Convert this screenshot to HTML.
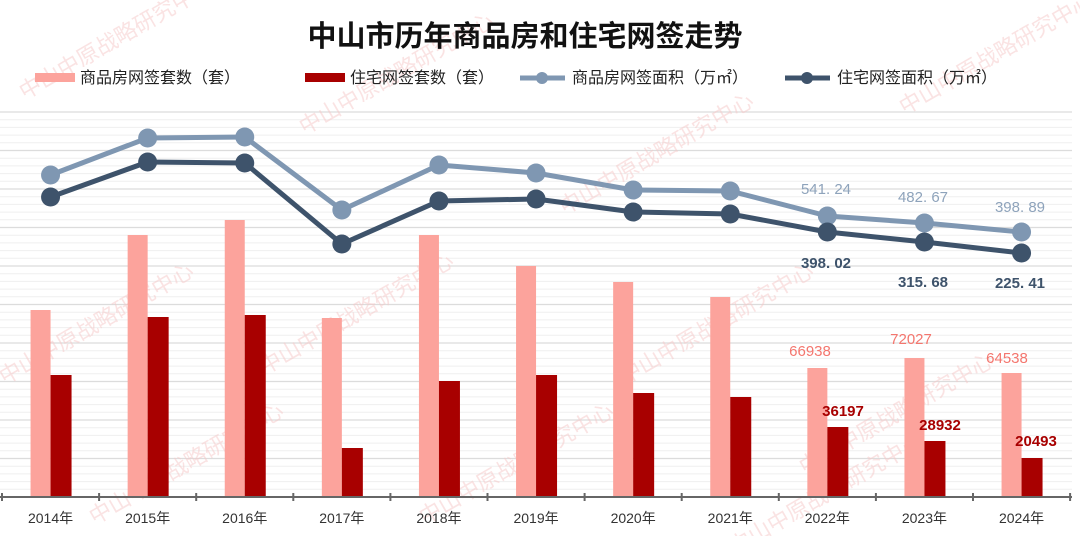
<!DOCTYPE html>
<html><head><meta charset="utf-8"><style>
html,body{margin:0;padding:0;background:#fff;width:1080px;height:536px;overflow:hidden;}
svg{display:block;font-family:"Liberation Sans","Noto Sans CJK SC",sans-serif;overflow:hidden;}
</style></head><body>
<svg id="s" width="1080" height="536" viewBox="0 0 1080 536" xmlns="http://www.w3.org/2000/svg"></svg>
<script>
const s=document.getElementById('s');let h='';
for(let i=0;i<=10;i++){const y=112+38.5*i;h+=`<line x1="0" x2="1072" y1="${y}" y2="${y}" stroke="#dcdcdc" stroke-width="1.3"/>`;
 if(i<10)for(let k=1;k<5;k++){const yy=y+7.7*k;h+=`<line x1="0" x2="1072" y1="${yy}" y2="${yy}" stroke="#efefef" stroke-width="1"/>`;}}
const wm=[[120,45],[400,80],[660,160],[1000,60],[100,330],[360,320],[720,330],[900,420],[190,470],[520,470],[830,500]];
wm.forEach(([x,y])=>{h+=`<text x="${x}" y="${y}" transform="rotate(-30 ${x} ${y})" font-size="22" fill="#f6c8c8" opacity="0.5" text-anchor="middle">中山中原战略研究中心</text>`;});
h+=`<text x="525" y="46" font-size="29" font-weight="bold" text-anchor="middle" fill="#111">中山市历年商品房和住宅网签走势</text>`;
h+=`<rect x="35" y="73" width="40" height="9" fill="#fca39c"/><text x="80" y="83" font-size="16" fill="#222">商品房网签套数（套）</text>`;
h+=`<rect x="305" y="73" width="40" height="9" fill="#a80000"/><text x="350" y="83" font-size="16" fill="#222">住宅网签套数（套）</text>`;
h+=`<line x1="520" x2="565" y1="78" y2="78" stroke="#7f97b2" stroke-width="5"/><circle cx="542" cy="78" r="6" fill="#7f97b2"/><text x="572" y="83" font-size="16" fill="#222">商品房网签面积（万㎡）</text>`;
h+=`<line x1="785" x2="830" y1="78" y2="78" stroke="#3e536b" stroke-width="5"/><circle cx="807" cy="78" r="6" fill="#3e536b"/><text x="837" y="83" font-size="16" fill="#222">住宅网签面积（万㎡）</text>`;
const cx=i=>2+97.1*(i+0.5), base=497;
const pink=[310,235,220,318,235,266,282,297,368,358,373];
const dark=[375,317,315,448,381,375,393,397,427,441,458];
for(let i=0;i<11;i++){const c=cx(i);
 h+=`<rect x="${c-20}" y="${pink[i]}" width="20" height="${base-pink[i]}" fill="#fca39c"/>`;
 h+=`<rect x="${c}" y="${dark[i]}" width="21" height="${base-dark[i]}" fill="#a80000"/>`;
 h+=`<text x="${c}" y="523" font-size="14" text-anchor="middle" fill="#333">${2014+i}年</text>`;}
h+=`<line x1="0" x2="1072" y1="${base}" y2="${base}" stroke="#666" stroke-width="2"/>`;
for(let i=0;i<=11;i++){const x=2+97.1*i;h+=`<line x1="${x}" x2="${x}" y1="${base-4}" y2="${base+4}" stroke="#666" stroke-width="2"/>`;}
const L=[175,138,137,210,165,173,190,191,216,223,232];
const D=[197,162,163,244,201,199,212,214,232,242,253];
function line(arr,col){let p=arr.map((y,i)=>`${cx(i)},${y}`).join(' ');
 h+=`<polyline points="${p}" fill="none" stroke="${col}" stroke-width="5" stroke-linejoin="round"/>`;
 arr.forEach((y,i)=>h+=`<circle cx="${cx(i)}" cy="${y}" r="9.5" fill="${col}"/>`);}
line(L,'#7f97b2');line(D,'#3e536b');
const lab=(x,y,t,c,sz,w)=>h+=`<text x="${x}" y="${y}" font-size="${sz}" fill="${c}" text-anchor="middle" font-weight="${w||'normal'}">${t}</text>`;
lab(826,194,'541. 24','#8ea3bb',15);lab(923,202,'482. 67','#8ea3bb',15);lab(1020,212,'398. 89','#8ea3bb',15);
lab(826,268,'398. 02','#3e536b',15,'bold');lab(923,287,'315. 68','#3e536b',15,'bold');lab(1020,288,'225. 41','#3e536b',15,'bold');
lab(810,356,'66938','#f4766e',15);lab(911,344,'72027','#f4766e',15);lab(1007,363,'64538','#f4766e',15);
lab(843,416,'36197','#a80000',15,'bold');lab(940,430,'28932','#a80000',15,'bold');lab(1036,446,'20493','#a80000',15,'bold');
s.innerHTML=h;
</script>
</body></html>
